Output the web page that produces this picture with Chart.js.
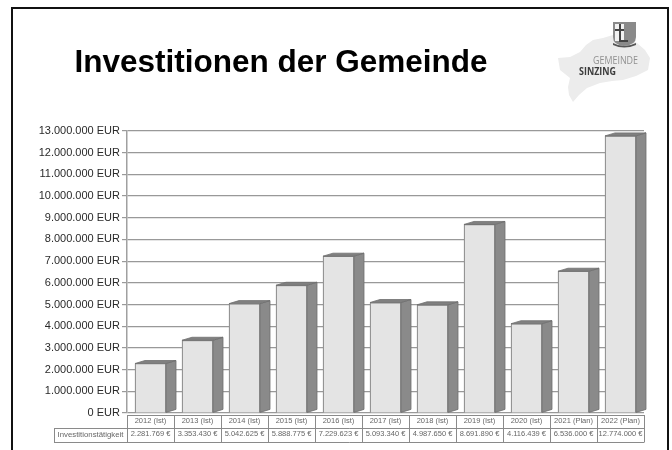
<!DOCTYPE html>
<html><head><meta charset="utf-8">
<script src="https://cdn.jsdelivr.net/npm/chart.js@4/dist/chart.umd.min.js"></script>
<style>
html,body{margin:0;padding:0;background:#fff;width:672px;height:450px;overflow:hidden}
#wrap{position:relative;width:672px;height:450px;filter:blur(.5px)}
#c{position:absolute;left:0;top:0}
#frame{position:absolute;left:11px;top:7px;width:658px;height:460px;border:2px solid #111;box-sizing:border-box}
#title{position:absolute;left:0;top:43px;width:562px;text-align:center;font:bold 31.5px "Liberation Sans",Arial,sans-serif;color:#000;white-space:nowrap}
#logo{position:absolute;left:0;top:0}
</style></head><body>
<div id="wrap">
<canvas id="c" width="672" height="450"></canvas>
<div id="frame"></div>
<div id="title">Investitionen der Gemeinde</div>
<svg id="logo" width="672" height="120" xmlns="http://www.w3.org/2000/svg">
<path d="M558 58L570 57 580 52 586 45 593 40 603 38 613 35 626 37 637 43 645 50 650 58 648 70 636 76 623 80 612 81 600 83 587 88 579 95 573 102 569 95 568 87 570 78 560 70Z" fill="#ececec"/>
<path d="M613 22H636V37Q636 45 624 46 613 45 613 37Z" fill="#8a8a8a"/>
<path d="M615 24H624V41H615Z" fill="#f2f2f2"/>
<path d="M619 24H621V40H628V42H619Z M615 29H624V31H615Z" fill="#444"/>
<path d="M613 43Q624 49 636 43V45Q624 50 613 45Z" fill="#555"/>
<text x="593" y="64" font-family="Open Sans" font-size="10" textLength="45" lengthAdjust="spacingAndGlyphs" fill="#909090">GEMEINDE</text>
<text x="579" y="75" font-family="Open Sans" font-weight="700" font-size="10.5" textLength="37" lengthAdjust="spacingAndGlyphs" fill="#3c3c3c">SINZING</text>
</svg>
</div>
<script>
const categories=["2012 (Ist)","2013 (Ist)","2014 (Ist)","2015 (Ist)","2016 (Ist)","2017 (Ist)","2018 (Ist)","2019 (Ist)","2020 (Ist)","2021 (Plan)","2022 (Plan)"];
const values=[2281769,3353430,5042625,5888775,7229623,5093340,4987650,8691890,4116439,6536000,12774000];
const valueLabels=["2.281.769 €","3.353.430 €","5.042.625 €","5.888.775 €","7.229.623 €","5.093.340 €","4.987.650 €","8.691.890 €","4.116.439 €","6.536.000 €","12.774.000 €"];
const rowLabel="Investitionstätigkeit";
const yMax=13000000, yStep=1000000;

const DX=10,DY=3;
const bars3d={id:'bars3d',
 afterDatasetsDraw(chart){
  const ctx=chart.ctx, meta=chart.getDatasetMeta(0);
  ctx.save();
  meta.data.forEach(b=>{
    const l=b.x-b.width/2, r=b.x+b.width/2, t=b.y, bt=b.base;
    ctx.fillStyle='#8a8a8a';ctx.strokeStyle='#707070';ctx.lineWidth=.8;
    ctx.beginPath();ctx.moveTo(r,t);ctx.lineTo(r+DX,t-DY);ctx.lineTo(r+DX,bt-DY);ctx.lineTo(r,bt);ctx.closePath();ctx.fill();ctx.stroke();
    ctx.fillStyle='#808080';
    ctx.beginPath();ctx.moveTo(l,t);ctx.lineTo(l+DX,t-DY);ctx.lineTo(r+DX,t-DY);ctx.lineTo(r,t);ctx.closePath();ctx.fill();ctx.stroke();
  });
  ctx.restore();
 }};
const tablePlugin={id:'tablePlugin',
 afterDraw(chart){
  const ctx=chart.ctx,a=chart.chartArea;
  const y0=a.bottom+2,y1=y0+12.5,y2=y1+14,xL=54;
  ctx.save();ctx.strokeStyle='#8a8a8a';ctx.lineWidth=1;
  const line=(p,q,r,s)=>{ctx.beginPath();ctx.moveTo(p,q);ctx.lineTo(r,s);ctx.stroke();};
  line(a.left+.5,y0+.5,a.right+.5,y0+.5);
  line(xL,Math.round(y1)+.5,a.right+.5,Math.round(y1)+.5);
  line(xL,Math.round(y2)+.5,a.right+.5,Math.round(y2)+.5);
  line(xL+.5,Math.round(y1),xL+.5,Math.round(y2));
  const w=(a.right-a.left)/categories.length;
  for(let i=0;i<=categories.length;i++){const X=Math.round(a.left+i*w)+.5;line(X,y0,X,Math.round(y2));}
  ctx.fillStyle='#666';ctx.font='7.8px "Liberation Sans",Arial,sans-serif';ctx.textAlign='center';ctx.textBaseline='middle';
  ctx.fillText(rowLabel,(xL+a.left)/2,(y1+y2)/2);
  ctx.restore();
 }};
new Chart(document.getElementById('c'),{
 type:'bar',
 data:{labels:categories.map((c,i)=>[c,valueLabels[i]]),
  datasets:[{data:values,backgroundColor:'#e4e4e4',borderColor:'#888',borderWidth:1.2,barThickness:31}]},
 plugins:[bars3d,tablePlugin],
 options:{responsive:false,animation:false,devicePixelRatio:1,
  layout:{padding:{left:0,right:28,top:131,bottom:9}},
  plugins:{legend:{display:false},tooltip:{enabled:false}},
  scales:{
   x:{offset:true,grid:{display:false,drawTicks:false},border:{display:false},
     ticks:{autoSkip:false,maxRotation:0,minRotation:0,padding:1,color:'#666',font:{family:'"Liberation Sans"',size:7.5,lineHeight:1.8}},
     afterFit(s){s.height=28;}},
   y:{min:0,max:yMax,
     grid:{color:'#999',lineWidth:1.2,tickLength:5,drawTicks:true},
     border:{color:'#a0a0a0',width:1.5},
     ticks:{stepSize:yStep,padding:2,color:'#2a2a2a',font:{family:'"Liberation Sans"',size:11},
       callback:v=>v.toLocaleString('de-DE')+' EUR'},
     afterFit(s){s.width=127;}}
  }}
});
</script>
</body></html>
